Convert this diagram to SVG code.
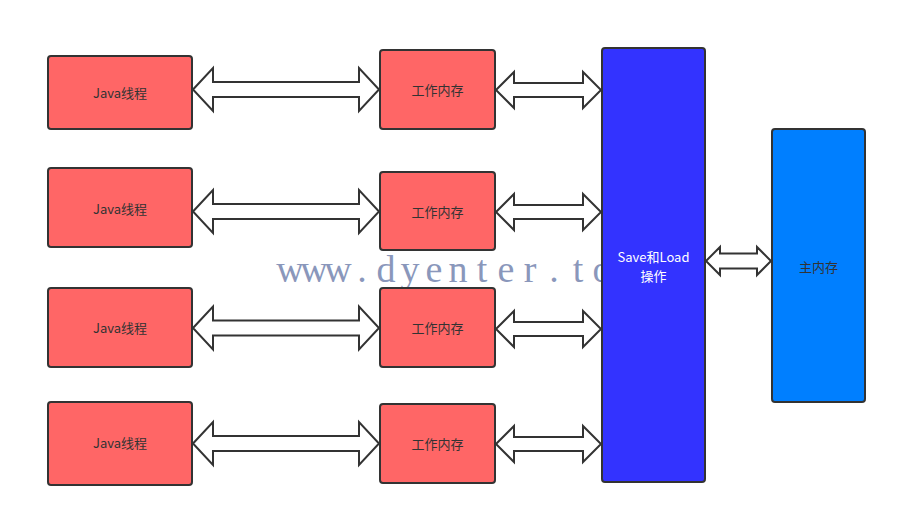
<svg xmlns="http://www.w3.org/2000/svg" width="897" height="517" viewBox="0 0 897 517">
<style>
.red{fill:#FF6666;stroke:#333;stroke-width:2}
.blue{fill:#3333FF;stroke:#333;stroke-width:2}
.main{fill:#007FFF;stroke:#333;stroke-width:2}
.arr{fill:#fff;stroke:#333;stroke-width:2;stroke-linejoin:miter}
.lbl{font-family:"Noto Sans CJK SC","Noto Sans",sans-serif;font-size:13px;fill:#333;text-anchor:middle;dominant-baseline:central}
.wlbl{fill:#fff}
.wm{font-family:"Liberation Serif","DejaVu Serif",serif;font-size:38px;fill:#8a97bb;text-anchor:middle}
</style>
<rect width="897" height="517" fill="#fff"/>
<text class="wm" x="290 314 338 362 386 410 434 458 482 506 530 554 578 602" y="282">www.dyenter.to</text>
<g id="connectors">
<polygon class="arr" points="193,89.5 213,68 213,82 359,82 359,68 379,89.5 359,111 359,97 213,97 213,111"/>
<polygon class="arr" points="193,211.5 213,190 213,204 359,204 359,190 379,211.5 359,233 359,219 213,219 213,233"/>
<polygon class="arr" points="193,328 213,306.5 213,320.5 359,320.5 359,306.5 379,328 359,349.5 359,335.5 213,335.5 213,349.5"/>
<polygon class="arr" points="193,443.5 213,422 213,436 359,436 359,422 379,443.5 359,465 359,451 213,451 213,465"/>
<polygon class="arr" points="496,90 514,72 514,83 583,83 583,72 601,90 583,108 583,97 514,97 514,108"/>
<polygon class="arr" points="496,212 514,194 514,205 583,205 583,194 601,212 583,230 583,219 514,219 514,230"/>
<polygon class="arr" points="496,329 514,311 514,322 583,322 583,311 601,329 583,347 583,336 514,336 514,347"/>
<polygon class="arr" points="496,444 514,426 514,437 583,437 583,426 601,444 583,462 583,451 514,451 514,462"/>
<polygon class="arr" points="706,261 720,247 720,253.5 757,253.5 757,247 771,261 757,275 757,268.5 720,268.5 720,275"/>
</g>
<g id="java1"><rect class="red" x="48" y="56" width="144" height="73" rx="3"/><text class="lbl" x="120" y="92">Java线程</text></g>
<g id="java2"><rect class="red" x="48" y="168" width="144" height="79" rx="3"/><text class="lbl" x="120" y="208">Java线程</text></g>
<g id="java3"><rect class="red" x="48" y="288" width="144" height="79" rx="3"/><text class="lbl" x="120" y="327">Java线程</text></g>
<g id="java4"><rect class="red" x="48" y="402" width="144" height="83" rx="3"/><text class="lbl" x="120" y="442">Java线程</text></g>
<g id="work1"><rect class="red" x="380" y="50" width="115" height="79" rx="3"/><text class="lbl" x="437.5" y="89">工作内存</text></g>
<g id="work2"><rect class="red" x="380" y="172" width="115" height="78" rx="3"/><text class="lbl" x="437.5" y="211">工作内存</text></g>
<g id="work3"><rect class="red" x="380" y="288" width="115" height="79" rx="3"/><text class="lbl" x="437.5" y="327">工作内存</text></g>
<g id="work4"><rect class="red" x="380" y="404" width="115" height="79" rx="3"/><text class="lbl" x="437.5" y="443">工作内存</text></g>
<g id="saveload"><rect class="blue" x="602" y="48" width="103" height="434" rx="3"/><text class="lbl wlbl" x="653.5" y="256">Save和Load</text><text class="lbl wlbl" x="653.5" y="275">操作</text></g>
<g id="mainmem"><rect class="main" x="772" y="129" width="93" height="273" rx="3"/><text class="lbl" x="818.5" y="266">主内存</text></g>
</svg>
